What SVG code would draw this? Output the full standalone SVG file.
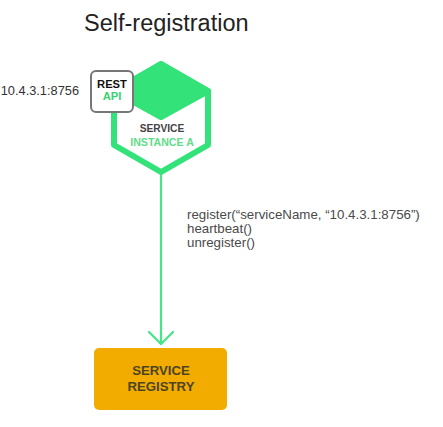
<svg xmlns="http://www.w3.org/2000/svg" width="443" height="427" viewBox="0 0 443 427">
<style>
text{font-family:"Liberation Sans",Arial,sans-serif}
.title{font-size:23.5px;fill:#222}
.addr{font-size:12.8px;fill:#333}
.code{font-size:13.3px;fill:#4a4a4a}
.lbl{font-weight:bold;text-anchor:middle}
.arrow{fill:none;stroke:#45e685;stroke-width:2.2;stroke-linejoin:round;stroke-linecap:round}
</style>
<rect width="443" height="427" fill="#fff"/>
<text class="title" x="84" y="31">Self-registration</text>
<text class="addr" x="79" y="95" text-anchor="end">10.4.3.1:8756</text>

<g id="connectors">
<line class="arrow" x1="161" y1="172" x2="161" y2="344"/>
<polyline class="arrow" points="149,332 161,344 173,332"/>
<text class="code" x="187" y="219">register(“serviceName, “10.4.3.1:8756”)</text>
<text class="code" x="187" y="233">heartbeat()</text>
<text class="code" x="187" y="247">unregister()</text>
</g>

<g id="service-instance-a">
<polygon points="161,64 208,91 208,145 161,172 114,145 114,91" fill="#fff" stroke="#33e379" stroke-width="6" stroke-linejoin="round"/>
<polygon points="161,64 208,91 161,117 114,91" fill="#33e379" stroke="#33e379" stroke-width="6" stroke-linejoin="round"/>
<text class="lbl" x="162" y="132" font-size="10.2" fill="#444">SERVICE</text>
<text class="lbl" x="162" y="146" font-size="10.6" fill="#62dc8a">INSTANCE A</text>
</g>

<g id="rest-api">
<rect x="91" y="71" width="42" height="41" rx="5" fill="#fff" stroke="#777" stroke-width="2"/>
<text class="lbl" x="112" y="88" font-size="11.2" fill="#111">REST</text>
<text class="lbl" x="112" y="100" font-size="11.2" fill="#35d373">API</text>
</g>

<g id="service-registry">
<rect x="94" y="348" width="133" height="62" rx="5" fill="#f2ac00"/>
<text class="lbl" x="161" y="375" font-size="13.2" fill="#4d4423">SERVICE</text>
<text class="lbl" x="161" y="391" font-size="13.2" fill="#4d4423">REGISTRY</text>
</g>
</svg>
